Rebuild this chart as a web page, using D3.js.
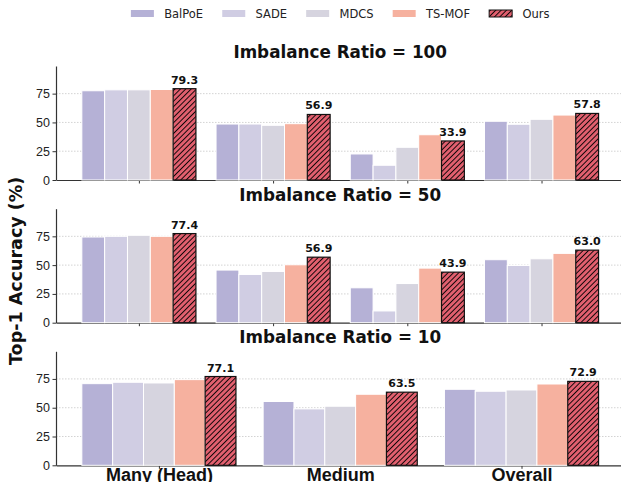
<!DOCTYPE html>
<html>
<head>
<meta charset="utf-8">
<script src="https://cdn.jsdelivr.net/npm/d3@7"></script>
<style>
  body { margin: 0; background: #fff; }
  svg { display: block; font-family: "DejaVu Sans", sans-serif; }
</style>
</head>
<body>
<div id="chart"></div>
<script>
// methods + colours
var methods = ["BalPoE", "SADE", "MDCS", "TS-MOF", "Ours"];
var colors = ["#b5b1d6", "#d0cde3", "#d6d4df", "#f6b19f", "#e2606f"];

// groups: the first two panels have 4 unlabeled groups
var groups4 = ["", "", "", ""];
var groups3 = ["Many (Head)", "Medium", "Overall"];
var titles = ["Imbalance Ratio = 100", "Imbalance Ratio = 50", "Imbalance Ratio = 10"];
var yTicks = [0, 25, 50, 75];

// values per group, in method order
var ir100 = [
  [77.5, 78.3, 78.3, 78.6, 79.3],
  [48.6, 48.6, 47.5, 48.9, 56.9],
  [22.6, 12.8, 28.4, 39.3, 33.9],
  [51.0, 48.4, 52.7, 56.4, 57.8]
];
var ir50 = [
  [74.4, 75.0, 75.9, 75.0, 77.4],
  [45.7, 41.9, 44.5, 50.3, 56.9],
  [30.3, 10.2, 34.0, 47.4, 43.9],
  [54.7, 49.7, 55.5, 60.2, 63.0]
];
var ir10 = [
  [70.9, 72.1, 71.5, 74.4, 77.1],
  [55.4, 49.0, 51.3, 61.7, 63.5],
  [66.0, 64.3, 65.4, 70.6, 72.9]
];

var width = 621,
    height = 482,
    axLeft = 56,
    axRight = 624.4,
    panelH = 114,
    panelTops = [66, 208.7, 351.3];

var svg = d3.select("#chart").append("svg")
    .attr("width", width)
    .attr("height", height);

var defs = svg.append("defs");
var hs = 3.8;
var pat = defs.append("pattern")
    .attr("id", "hatch")
    .attr("patternUnits", "userSpaceOnUse")
    .attr("width", hs)
    .attr("height", hs)
    .attr("patternTransform", "rotate(45)");
pat.append("rect").attr("width", hs).attr("height", hs).attr("fill", colors[4]);
pat.append("line")
    .attr("x1", 0.5).attr("y1", 0).attr("x2", 0.5).attr("y2", hs)
    .attr("stroke", "#000").attr("stroke-width", 0.9);

function fillFor(i) { return i === 4 ? "url(#hatch)" : colors[i]; }

function drawPanel(data, labels, title, top) {
  var n = data.length,
      groupW = 0.85,
      barW = groupW / methods.length,
      span = (n - 1) + groupW,
      lo = -groupW / 2 - 0.05 * span,
      hi = (n - 1) + groupW / 2 + 0.05 * span;

  var x = d3.scaleLinear().domain([lo, hi]).range([axLeft, axRight]);
  var y = d3.scaleLinear().domain([0, 99]).range([top + panelH, top]);

  var g = svg.append("g");

  // grid
  g.selectAll("line.grid")
      .data(yTicks.slice(1))
    .enter().append("line")
      .attr("class", "grid")
      .attr("x1", axLeft).attr("x2", axRight)
      .attr("y1", function(d) { return y(d); })
      .attr("y2", function(d) { return y(d); })
      .attr("stroke", "#c8c8c8")
      .attr("stroke-width", 0.8)
      .attr("stroke-dasharray", "1.5,1.5");

  // axes
  var yAxis = g.append("g")
      .attr("transform", "translate(" + axLeft + ",0)")
      .call(d3.axisLeft(y).tickValues(yTicks).tickSize(3.5).tickSizeOuter(0).tickPadding(2.5));
  var xAxis = g.append("g")
      .attr("transform", "translate(0," + y(0) + ")")
      .call(d3.axisBottom(x).tickValues(d3.range(n))
        .tickFormat(function(i) { return labels[i]; })
        .tickSize(3.5).tickSizeOuter(0));

  [yAxis, xAxis].forEach(function(a) {
    a.select(".domain").attr("stroke", "#333").attr("stroke-width", 1.2);
    a.selectAll(".tick line").attr("stroke", "#333").attr("stroke-width", 1);
  });
  yAxis.selectAll("text")
      .attr("font-size", 12.5)
      .attr("fill", "#222");
  xAxis.selectAll("text")
      .attr("y", 15.5)
      .attr("dy", 0)
      .attr("font-size", 18)
      .attr("font-weight", "bold")
      .attr("fill", "#111");

  // bars
  var grp = g.selectAll("g.group")
      .data(data)
    .enter().append("g")
      .attr("class", "group");

  grp.selectAll("rect")
      .data(function(d, gi) { return d.map(function(v, mi) { return { g: gi, m: mi, v: v }; }); })
    .enter().append("rect")
      .attr("x", function(d) { return x(d.g - groupW / 2 + d.m * barW); })
      .attr("width", function(d) { return x(barW) - x(0); })
      .attr("y", function(d) { return y(d.v); })
      .attr("height", function(d) { return y(0) - y(d.v); })
      .attr("fill", function(d) { return fillFor(d.m); })
      .attr("stroke", function(d) { return d.m === 4 ? "#111" : "#fff"; })
      .attr("stroke-width", function(d) { return d.m === 4 ? 1.2 : 1; });

  // value labels on "Ours"
  g.selectAll("text.val")
      .data(data)
    .enter().append("text")
      .attr("class", "val")
      .attr("x", function(d, gi) { return x(gi - groupW / 2 + 4.5 * barW); })
      .attr("y", function(d) { return y(d[4]) - 5; })
      .attr("text-anchor", "middle")
      .attr("font-size", 11)
      .attr("font-weight", "bold")
      .attr("fill", "#111")
      .text(function(d) { return d[4].toFixed(1); });

  // title
  g.append("text")
      .attr("x", (axLeft + axRight) / 2)
      .attr("y", top - 8)
      .attr("text-anchor", "middle")
      .attr("font-size", 16.8)
      .attr("font-weight", "bold")
      .attr("fill", "#111")
      .text(title);
}

drawPanel(ir100, groups4, titles[0], panelTops[0]);
drawPanel(ir50, groups4, titles[1], panelTops[1]);
drawPanel(ir10, groups3, titles[2], panelTops[2]);

// y label
svg.append("text")
    .attr("transform", "translate(22.3,365) rotate(-90)")
    .attr("font-size", 17.5)
    .attr("font-weight", "bold")
    .attr("fill", "#111")
    .text("Top-1 Accuracy (%)");

// legend, centred over the axes
var legend = svg.append("g");
var items = legend.selectAll("g")
    .data(methods)
  .enter().append("g");
items.append("rect")
    .attr("width", 23).attr("height", 7)
    .attr("y", 10)
    .attr("fill", function(d, i) { return fillFor(i); })
    .attr("stroke", function(d, i) { return i === 4 ? "#111" : "none"; })
    .attr("stroke-width", 1);
items.append("text")
    .attr("x", 33.3)
    .attr("y", 18.3)
    .attr("font-size", 11.5)
    .attr("fill", "#222")
    .text(function(d) { return d; });

var cx = 0;
items.each(function() {
  var it = d3.select(this);
  it.attr("transform", "translate(" + cx + ",0)");
  cx += 33.3 + it.select("text").node().getComputedTextLength() + 19.1;
});
var legW = cx - 19.1;
legend.attr("transform", "translate(" + ((axLeft + axRight) / 2 - legW / 2) + ",0)");
</script>
</body>
</html>
